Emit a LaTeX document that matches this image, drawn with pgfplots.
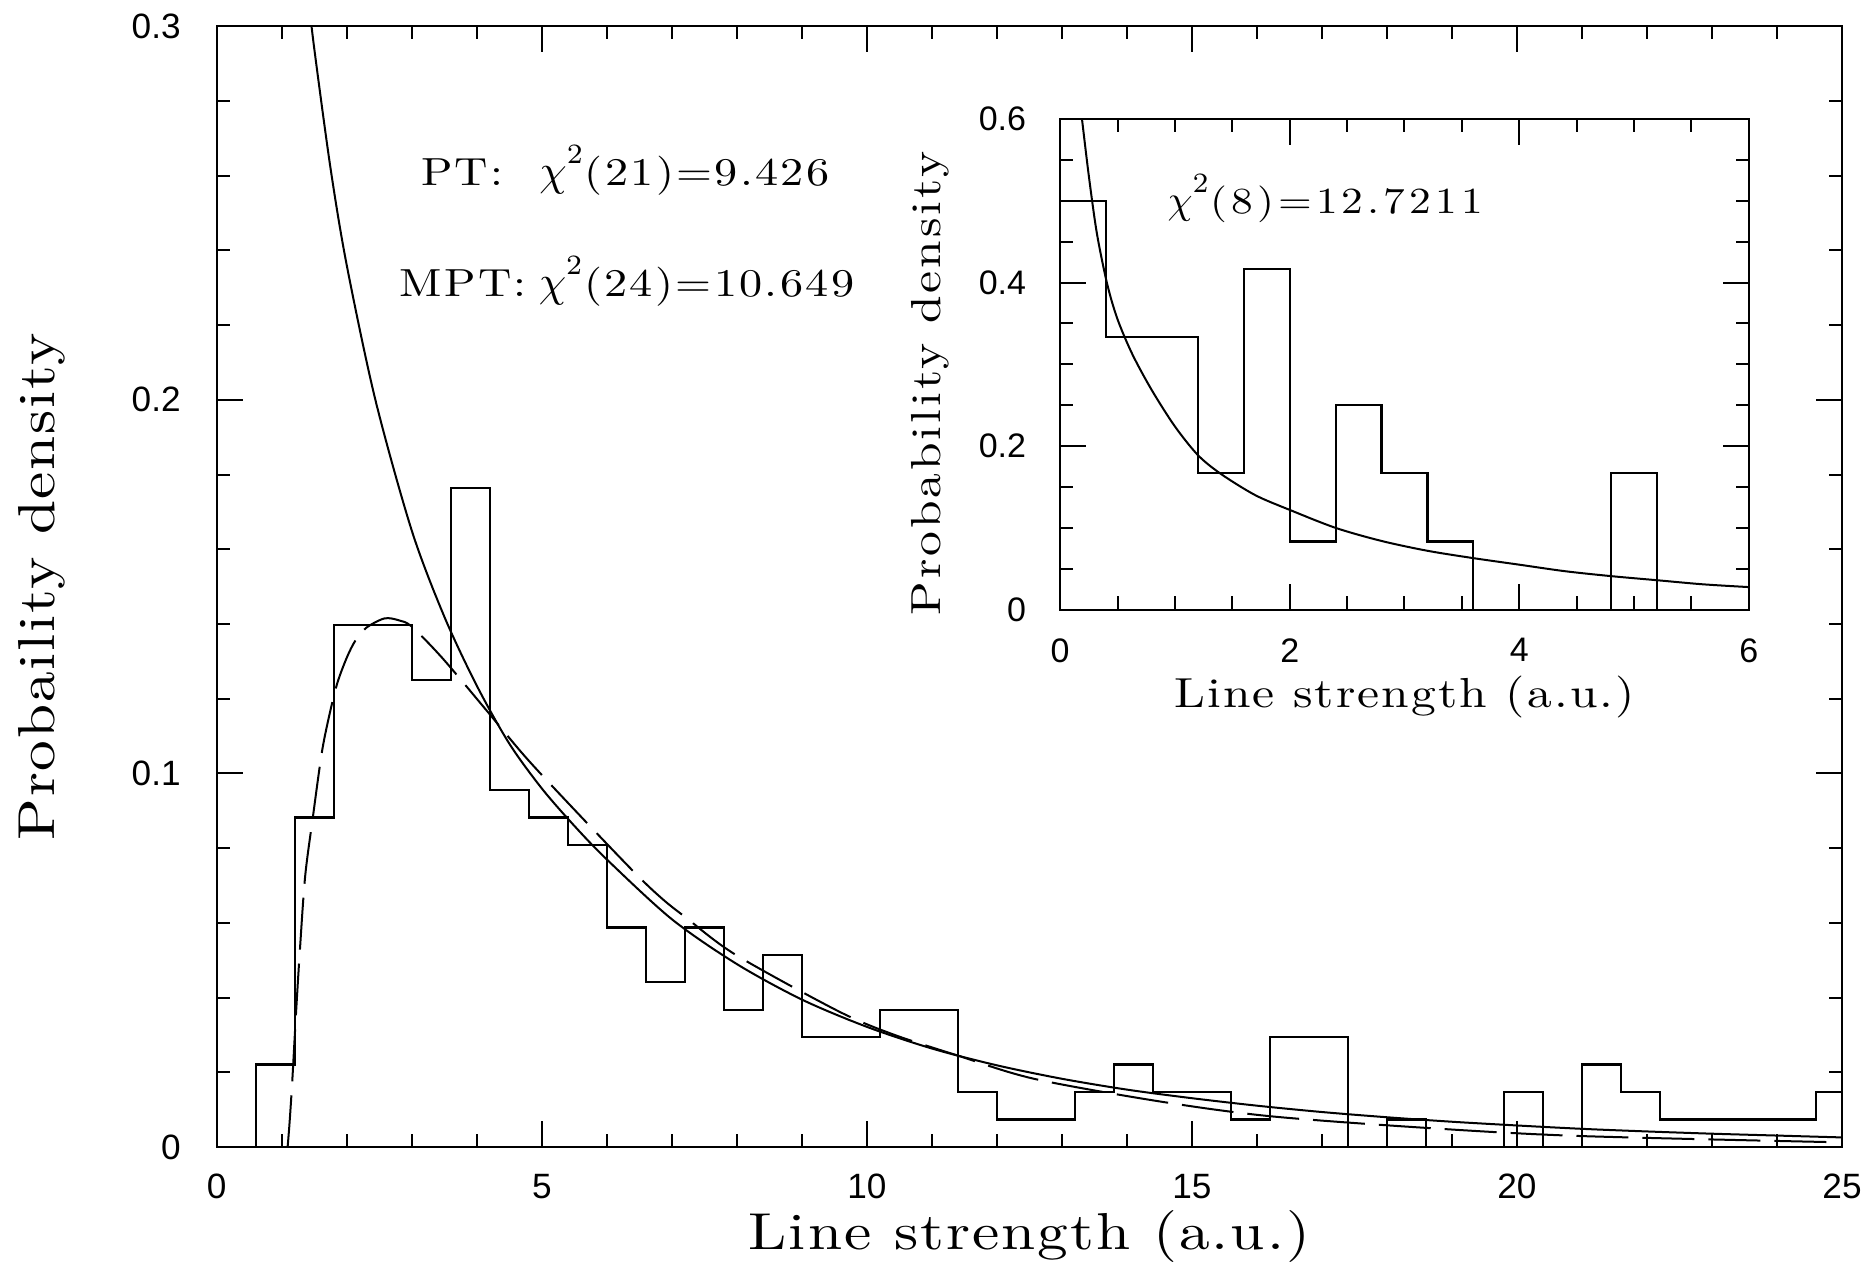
\documentclass[border=0pt]{standalone}
\usepackage{fontspec}
\usepackage{pgfplots}
\pgfplotsset{compat=1.18}
\newfontfamily\ticksf{Liberation Sans}
\newfontfamily\lm[FakeStretch=1.18]{lmroman10-regular.otf}
\newcommand\spaced[3]{{\lm\fontsize{#1}{#1}\selectfont\addfontfeatures{LetterSpace=#2}#3}}
\newcommand\chisq{$\chi^{\raisebox{1.6pt}{$\scriptstyle 2$}}$}

\begin{document}
\begin{tikzpicture}
\path[use as bounding box] (-54.2pt,-28.9pt) rectangle (412.4pt,286.85pt);
\pgfplotsset{
  hbox/.style={
    scale only axis, anchor=south west, clip=true,
    tick align=inside, tick pos=both,
    xticklabel pos=lower, yticklabel pos=left,
    major tick length=6.5pt, minor tick length=3.3pt,
    axis line style={line width=0.5pt},
    tick style={line width=0.5pt, black},
    /pgf/number format/assume math mode=true,
    ticklabel style={font=\ticksf\fontsize{8.8}{10}\selectfont},
  }
}
% main panel
\begin{axis}[hbox, at={(0pt,0pt)},
  width=406.4pt, height=280.3pt,
  xmin=0, xmax=25, ymin=0, ymax=0.3,
  xtick={0,5,10,15,20,25}, ytick={0,0.1,0.2,0.3},
  minor x tick num=4, minor y tick num=4,
  yticklabel style={xshift=-5.5pt},
  xticklabel style={yshift=-3.2pt},
  xlabel={\spaced{13}{4}{Line strength (a.u.)}},
  ylabel={\spaced{13}{3.5}{Probaility density}},
  xlabel style={at={(axis description cs:0.5,-0.0913)}, anchor=base},
  ylabel style={at={(axis description cs:-0.0997,0.5)}, anchor=base},
]
% histogram (bin width 0.6)
\addplot[const plot, line width=0.55pt] coordinates {
(0,0) (0.6,0.0221) (1.2,0.0882) (1.8,0.1397) (2.4,0.1397) (3.0,0.1250)
(3.6,0.1765) (4.2,0.0956) (4.8,0.0882) (5.4,0.0809) (6.0,0.0588)
(6.6,0.0441) (7.2,0.0588) (7.8,0.0368) (8.4,0.0515) (9.0,0.0294)
(9.6,0.0294) (10.2,0.0368) (10.8,0.0368) (11.4,0.0147) (12.0,0.0074)
(12.6,0.0074) (13.2,0.0147) (13.8,0.0221) (14.4,0.0147) (15.0,0.0147)
(15.6,0.0074) (16.2,0.0294) (16.8,0.0294) (17.4,0) (18.0,0.0074)
(18.6,0) (19.2,0) (19.8,0.0147) (20.4,0) (21.0,0.0221) (21.6,0.0147)
(22.2,0.0074) (22.8,0.0074) (23.4,0.0074) (24.0,0.0074) (24.6,0.0147)
(25.2,0.0147)};
% PT (solid)
\addplot[smooth, line width=0.5pt] coordinates {
(1.40,0.309) (1.5,0.294) (1.75,0.262) (2.0,0.236) (2.44,0.200) (3.0,0.165)
(3.5,0.142) (4.0,0.1235) (4.5,0.108) (5.0,0.096) (5.5,0.086) (6.0,0.077)
(7.0,0.061) (8.0,0.049) (9.0,0.0395) (10.0,0.0322) (11.0,0.0264)
(12.0,0.0219) (13.0,0.0183) (14.0,0.0154) (15.0,0.0131) (16.0,0.0111)
(17.0,0.0094) (18.0,0.0080) (19.0,0.0068) (20.0,0.0058) (21.0,0.0049)
(22.0,0.0042) (23.0,0.0036) (24.0,0.0031) (25.0,0.0026)};
% MPT (dashed)
\addplot[smooth, tension=0.5, line width=0.5pt, dash pattern=on 13pt off 3.5pt] coordinates {
(1.09,0) (1.12,0.0065) (1.16,0.0172) (1.22,0.036) (1.28,0.053) (1.36,0.0725)
(1.48,0.0885) (1.62,0.106) (1.75,0.117) (1.86,0.1245) (2.0,0.131)
(2.13,0.1355) (2.30,0.139) (2.58,0.1415) (2.80,0.1410) (3.0,0.1393)
(3.47,0.1309) (4.12,0.1175) (4.77,0.104) (5.60,0.0885) (6.46,0.0729)
(6.87,0.0662) (7.22,0.0614) (7.98,0.0515) (9.56,0.0364) (10.4,0.0302)
(11.4,0.0245) (12.57,0.0183) (14.48,0.0123) (16.19,0.0083) (18.56,0.0052)
(20.93,0.0030) (24.95,0.0013)};
\node[anchor=base west, inner sep=0pt] at (axis cs:3.13,0.2573)
  {\spaced{9.8}{6}{PT:}\hspace{9pt}{\fontsize{10.5}{11}\selectfont\chisq}\spaced{9.8}{6}{(21)=9.426}};
\node[anchor=base west, inner sep=0pt] at (axis cs:2.80,0.2276)
  {\spaced{9.8}{6}{MPT:}\hspace{3pt}{\fontsize{10.5}{11}\selectfont\chisq}\spaced{9.8}{6}{(24)=10.649}};
\end{axis}
% inset
\begin{axis}[hbox, at={(210.9pt,134.4pt)},
  width=172.2pt, height=122.7pt,
  xmin=0, xmax=6, ymin=0, ymax=0.6,
  xtick={0,2,4,6}, ytick={0,0.2,0.4,0.6},
  minor x tick num=3, minor y tick num=3,
  ticklabel style={font=\ticksf\fontsize{8.5}{10}\selectfont},
  yticklabel style={xshift=-5pt},
  xticklabel style={yshift=-3.7pt},
  xlabel={\spaced{10.5}{5}{Line strength (a.u.)}},
  ylabel={\spaced{10.5}{7}{Probability density}},
  xlabel style={at={(axis description cs:0.5,-0.1989)}, anchor=base},
  ylabel style={at={(axis description cs:-0.1742,0.461)}, anchor=base},
]
% histogram (bin width 0.4)
\addplot[const plot, line width=0.55pt] coordinates {
(0,0.5) (0.4,0.3333) (0.8,0.3333) (1.2,0.1667) (1.6,0.4167) (2.0,0.0833)
(2.4,0.25) (2.8,0.1667) (3.2,0.0833) (3.6,0) (4.0,0) (4.4,0) (4.8,0.1667)
(5.2,0) (5.6,0) (6.0,0)};
\addplot[smooth, line width=0.5pt] coordinates {
(0.19,0.600) (0.25,0.530) (0.32,0.460) (0.41,0.398) (0.5,0.355) (0.63,0.312)
(0.8,0.268) (1.0,0.224) (1.2,0.189) (1.4,0.166) (1.7,0.140) (2.0,0.122)
(2.4,0.100) (2.8,0.084) (3.2,0.072) (3.6,0.063) (4.0,0.055) (4.4,0.047)
(4.8,0.041) (5.2,0.036) (5.6,0.031) (6.0,0.0276)};
\node[anchor=base west, inner sep=0pt] at (axis cs:0.93,0.485)
  {{\fontsize{10}{10}\selectfont\chisq}\spaced{9.2}{11}{(8)=12.7211}};
\end{axis}
\end{tikzpicture}
\end{document}
